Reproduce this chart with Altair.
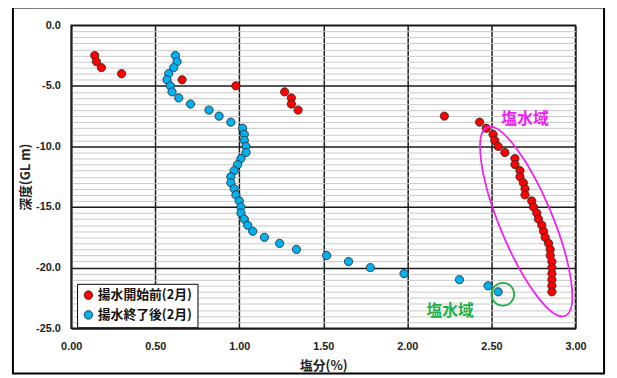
import altair as alt
import pandas as pd

# ---- data ----
depths = [-2.5, -3.0, -3.5, -4.0, -4.5, -5.0, -5.5, -6.0, -6.5, -7.0,
          -7.5, -8.0, -8.5, -9.0, -9.5, -10.0, -10.5, -11.0, -11.5, -12.0,
          -12.5, -13.0, -13.5, -14.0, -14.5, -15.0, -15.5, -16.0, -16.5, -17.0,
          -17.5, -18.0, -18.5, -19.0, -19.5, -20.0, -20.5, -21.0, -21.5, -22.0]
before_salinity = [0.14, 0.15, 0.18, 0.30, 0.66, 0.98, 1.27, 1.31, 1.31, 1.35,
                   2.22, 2.43, 2.47, 2.51, 2.52, 2.54, 2.58, 2.64, 2.64, 2.67,
                   2.67, 2.69, 2.70, 2.70, 2.74, 2.75, 2.77, 2.78, 2.80, 2.81,
                   2.82, 2.84, 2.85, 2.85, 2.86, 2.86, 2.86, 2.86, 2.86, 2.86]
after_salinity = [0.62, 0.63, 0.61, 0.58, 0.57, 0.59, 0.60, 0.64, 0.71, 0.82,
                  0.88, 0.95, 1.02, 1.03, 1.03, 1.04, 1.04, 1.01, 0.99, 0.97,
                  0.95, 0.95, 0.97, 0.98, 1.00, 1.01, 1.01, 1.03, 1.05, 1.08,
                  1.15, 1.24, 1.34, 1.52, 1.65, 1.78, 1.98, 2.31, 2.48, 2.54]
series_names = ["揚水開始前(2月)", "揚水終了後(2月)"]
series_colors = ["#FF0000", "#00B0F0"]

x_ticks = [0.0, 0.5, 1.0, 1.5, 2.0, 2.5, 3.0]
y_ticks = [-0.5 * i for i in range(51)]

note_text = ["塩水域", "塩水域"]
note_x = [2.70, 2.255]
note_y = [-7.74, -23.6]
note_colors = ["#EE22EE", "#22B04B"]

ellipse_center = {"x": [2.707], "y": [-16.2]}
circle_center = {"x": [2.568], "y": [-22.2]}

# ---- tables ----
rows = []
for name, vals in zip(series_names, [before_salinity, after_salinity]):
    for d, v in zip(depths, vals):
        rows.append({"x": v, "y": d, "series": name})
df = pd.DataFrame(rows)
notes = pd.DataFrame({"x": note_x, "y": note_y, "t": note_text, "c": note_colors})

major = "datum.value % 5 === 0"
X = alt.X("x:Q", scale=alt.Scale(domain=[0, 3], nice=False, zero=False),
          axis=alt.Axis(values=x_ticks, format=".2f", title="塩分(%)", grid=True,
                        gridColor="#1A1A1A", gridWidth=1.5, ticks=False,
                        domainColor="#1A1A1A", domainWidth=1.5, labelFlush=False,
                        labelFont="Liberation Sans", labelFontWeight="bold",
                        labelFontSize=11, labelColor="#222222", labelPadding=13,
                        titleFont="Noto Sans CJK JP", titleFontWeight="bold",
                        titleFontSize=13, titleColor="#222222", titlePadding=8))
Y = alt.Y("y:Q", scale=alt.Scale(domain=[-25, 0], nice=False, zero=False),
          axis=alt.Axis(values=y_ticks,
                        labelExpr=f"{major} ? (datum.value === 0 ? '0.0' : datum.value + '.0') : ''",
                        gridColor={"condition": {"test": major, "value": "#1A1A1A"}, "value": "#C8C8C8"},
                        gridWidth={"condition": {"test": major, "value": 1.5}, "value": 1},
                        ticks=False, labelOverlap=False, labelFlush=False,
                        domainColor="#1A1A1A", domainWidth=1.5, title="深度(GL m)",
                        labelFont="Liberation Sans", labelFontWeight="bold",
                        labelFontSize=11, labelColor="#222222", labelPadding=11,
                        titleFont="Noto Sans CJK JP", titleFontWeight="bold",
                        titleFontSize=13, titleColor="#222222", titlePadding=3))

frame = alt.Chart(pd.DataFrame({"a": [0]})).mark_rect(
    filled=False, stroke="black", strokeWidth=2
).encode(x=alt.value(-59), x2=alt.value(540), y=alt.value(-18), y2=alt.value(353))

points = alt.Chart(df).mark_circle(size=70, opacity=1, stroke="#222222", strokeWidth=0.8).encode(
    x=X, y=Y,
    fill=alt.Fill("series:N", scale=alt.Scale(domain=series_names, range=series_colors),
                  legend=alt.Legend(orient="none", legendX=6, legendY=262, title=None,
                                    strokeColor="black", fillColor="white",
                                    padding=5, labelFont="Noto Sans CJK JP", labelFontSize=13,
                                    labelFontWeight="bold", labelColor="#111111",
                                    symbolSize=75, symbolType="circle",
                                    symbolStrokeColor="#222222", symbolStrokeWidth=0.8,
                                    rowPadding=6, labelOffset=3)),
    order=alt.Order("series:N", sort="descending"),
)

ellipse_path = ("M 0 -1 C 0.1436 -1 0.26 -0.5523 0.26 0 C 0.26 0.5523 0.1436 1 0 1 "
                "C -0.1436 1 -0.26 0.5523 -0.26 0 C -0.26 -0.5523 -0.1436 -1 0 -1 Z")
ellipse = alt.Chart(pd.DataFrame(ellipse_center)).mark_point(
    shape=ellipse_path, size=42700, angle=337.5, filled=False,
    stroke="#EE22EE", strokeWidth=1.8, opacity=1
).encode(x=X, y=Y)

circle = alt.Chart(pd.DataFrame(circle_center)).mark_point(
    shape="circle", size=531, filled=False, stroke="#22B04B", strokeWidth=1.8, opacity=1
).encode(x=X, y=Y)

texts = alt.Chart(notes).mark_text(
    font="Noto Sans CJK JP", fontWeight="bold", fontSize=16
).encode(x=X, y=Y, text="t:N", color=alt.Color("c:N", scale=None))

chart = alt.layer(frame, points, ellipse, circle, texts).properties(
    width=511, height=307,
    autosize=alt.AutoSizeParams(type="none"),
    padding={"left": 64, "top": 15, "right": 34, "bottom": 48},
    background="white",
).configure_view(stroke="#1A1A1A", strokeWidth=1.5)

chart.save("out.html", embed_options={"renderer": "svg", "actions": False})
